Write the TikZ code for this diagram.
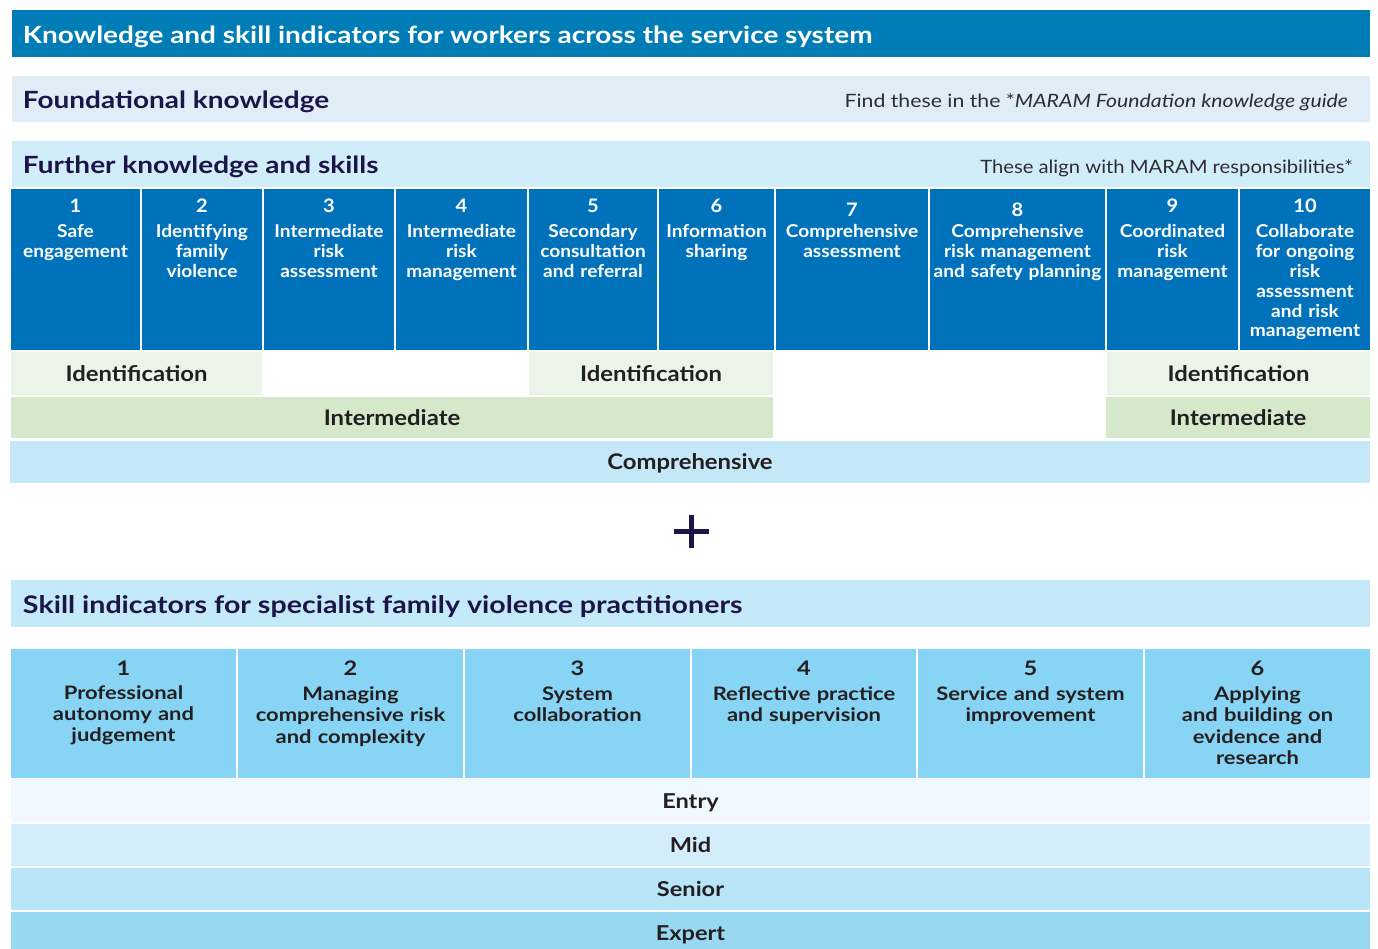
\documentclass[tikz,border=0pt]{standalone}
\usepackage{fontspec}
\setmainfont{Lato}
\newfontfamily\fA{Lato}[FakeStretch=1.18]
\newfontfamily\fB{Lato}[FakeStretch=1.155]
\newfontfamily\fG{Lato}[FakeStretch=1.10]
\newfontfamily\fC{Lato}[FakeStretch=1.08]
\newfontfamily\fD{Lato}[FakeStretch=1.11]
\newfontfamily\fE{Lato}[FakeStretch=1.18]
\newfontfamily\fF{Lato}[FakeStretch=1.15]
\definecolor{hdrc}{RGB}{0,125,182}
\definecolor{fndc}{RGB}{224,236,246}
\definecolor{furc}{RGB}{210,237,250}
\definecolor{colc}{RGB}{0,114,188}
\definecolor{idc}{RGB}{234,245,232}
\definecolor{intc}{RGB}{213,232,202}
\definecolor{compc}{RGB}{196,232,248}
\definecolor{navy}{RGB}{28,22,72}
\definecolor{darkc}{RGB}{35,31,32}
\definecolor{notec}{RGB}{45,45,50}
\definecolor{skhc}{RGB}{196,233,248}
\definecolor{skcc}{RGB}{135,212,244}
\definecolor{entc}{RGB}{239,248,254}
\definecolor{midc}{RGB}{211,238,250}
\definecolor{senc}{RGB}{184,229,248}
\definecolor{expc}{RGB}{153,216,243}
\newcommand\fsz[2]{\fontsize{#1}{#2}\selectfont}
\tikzset{
  band/.style={anchor=north west, inner sep=0pt, outer sep=0pt, draw=none},
  txt/.style={inner sep=0pt, outer sep=0pt},
  htitle/.style={txt, anchor=base west, text=navy, font=\fA\bfseries\fsz{23.7}{28}},
  note/.style={txt, anchor=base east, text=notec, font=\fB\fsz{18.4}{22}},
  cnum/.style={txt, anchor=base, text=white, font=\fC\bfseries\fsz{18.6}{20}},
  ctxt/.style={txt, anchor=base, text=white, align=center, text width=180pt, font=\fC\bfseries\fsz{17.7}{19.8}},
  lvl/.style={txt, anchor=base, text=darkc, font=\fD\bfseries\fsz{21.5}{24}},
  snum/.style={txt, anchor=base, text=darkc, font=\fE\bfseries\fsz{20}{22}},
  stxt/.style={txt, anchor=base, text=darkc, align=center, text width=230pt, font=\fE\bfseries\fsz{18.6}{21.3}},
  rlvl/.style={txt, anchor=base, text=darkc, font=\fF\bfseries\fsz{20.5}{22}},
  plusbar/.style={draw=navy, line width=5pt}
}
\begin{document}
\begin{tikzpicture}[x=1pt,y=-1pt]
\useasboundingbox (0,0) rectangle (1378,949);
\fill[white] (0,0) rectangle (1378,949);

% header
\node[band, fill=hdrc, minimum width=1358pt, minimum height=47pt] (hdr) at (12,10) {};
\node[htitle, text=white] (hdrT) at (23,43.5) {Knowledge and skill indicators for workers across the service system};

% foundational
\node[band, fill=fndc, minimum width=1358pt, minimum height=46pt] (fnd) at (12,76) {};
\node[htitle] (fndT) at (23,108.5) {Foundational knowledge};
\node[note] (fndN) at (1348,107.5) {Find these in the *\textit{MARAM Foundation knowledge guide}};

% further
\node[band, fill=furc, minimum width=1358pt, minimum height=46pt] (fur) at (12,141) {};
\node[htitle] (furT) at (23,173.5) {Further knowledge and skills};
\node[note, font=\fG\fsz{18.4}{22}] (furN) at (1353,173.5) {These align with MARAM responsibilities*};

% columns
\node[band, fill=colc, minimum width=129pt, minimum height=161pt] (c1) at (11,189) {};
\node[band, fill=colc, minimum width=120pt, minimum height=161pt] (c2) at (142,189) {};
\node[band, fill=colc, minimum width=130pt, minimum height=161pt] (c3) at (264,189) {};
\node[band, fill=colc, minimum width=131pt, minimum height=161pt] (c4) at (396,189) {};
\node[band, fill=colc, minimum width=128pt, minimum height=161pt] (c5) at (529,189) {};
\node[band, fill=colc, minimum width=115pt, minimum height=161pt] (c6) at (659,189) {};
\node[band, fill=colc, minimum width=152pt, minimum height=161pt] (c7) at (776,189) {};
\node[band, fill=colc, minimum width=175pt, minimum height=161pt] (c8) at (930,189) {};
\node[band, fill=colc, minimum width=131pt, minimum height=161pt] (c9) at (1107,189) {};
\node[band, fill=colc, minimum width=130pt, minimum height=161pt] (c10) at (1240,189) {};

\node[cnum] (c1n) at (75.5,213) {1};
\node[ctxt] (c1t) at (75.5,238) {Safe\\engagement};
\node[cnum] (c2n) at (202,213) {2};
\node[ctxt] (c2t) at (202,238) {Identifying\\family\\violence};
\node[cnum] (c3n) at (329,213) {3};
\node[ctxt] (c3t) at (329,238) {Intermediate\\risk\\assessment};
\node[cnum] (c4n) at (461.5,213) {4};
\node[ctxt] (c4t) at (461.5,238) {Intermediate\\risk\\management};
\node[cnum] (c5n) at (593,213) {5};
\node[ctxt] (c5t) at (593,238) {Secondary\\consultation\\and referral};
\node[cnum] (c6n) at (716.5,213) {6};
\node[ctxt] (c6t) at (716.5,238) {Information\\sharing};
\node[cnum] (c7n) at (852,217) {7};
\node[ctxt] (c7t) at (852,238) {Comprehensive\\assessment};
\node[cnum] (c8n) at (1017.5,217) {8};
\node[ctxt] (c8t) at (1017.5,238) {Comprehensive\\risk management\\and safety planning};
\node[cnum] (c9n) at (1172.5,213) {9};
\node[ctxt] (c9t) at (1172.5,238) {Coordinated\\risk\\management};
\node[cnum] (c10n) at (1305,213) {10};
\node[ctxt] (c10t) at (1305,238) {Collaborate\\for ongoing\\risk\\assessment\\and risk\\management};

% level rows
\node[band, fill=idc, minimum width=251pt, minimum height=43pt] (id1) at (11,352) {};
\node[band, fill=idc, minimum width=244pt, minimum height=43pt] (id2) at (529,352) {};
\node[band, fill=idc, minimum width=263pt, minimum height=43pt] (id3) at (1107,352) {};
\node[lvl] (id1t) at (id1.center |- 0,381.5) {Identification};
\node[lvl] (id2t) at (id2.center |- 0,381.5) {Identification};
\node[lvl] (id3t) at (id3.center |- 0,381.5) {Identification};

\node[band, fill=intc, minimum width=762pt, minimum height=41pt] (in1) at (11,397) {};
\node[band, fill=intc, minimum width=264pt, minimum height=41pt] (in2) at (1106,397) {};
\node[lvl] (in1t) at (in1.center |- 0,425.5) {Intermediate};
\node[lvl] (in2t) at (in2.center |- 0,425.5) {Intermediate};

\node[band, fill=compc, minimum width=1360pt, minimum height=42pt] (cmp) at (10,441) {};
\node[lvl] (cmpt) at (cmp.center |- 0,469.3) {Comprehensive};

% plus
\coordinate (pl) at (674,531);
\coordinate (pr) at (709,531);
\coordinate (pt) at (691.5,515);
\coordinate (pb) at (691.5,548);
\draw[plusbar] (pl) -- (pr);
\draw[plusbar] (pt) -- (pb);

% skill header
\node[band, fill=skhc, minimum width=1359pt, minimum height=47pt] (skh) at (11,580) {};
\node[htitle, font=\fA\bfseries\fsz{24.2}{28}] (skhT) at (23,613) {Skill indicators for specialist family violence practitioners};

% skill columns
\node[band, fill=skcc, minimum width=225pt, minimum height=129pt] (s1) at (11,649) {};
\node[band, fill=skcc, minimum width=225pt, minimum height=129pt] (s2) at (238,649) {};
\node[band, fill=skcc, minimum width=225pt, minimum height=129pt] (s3) at (465,649) {};
\node[band, fill=skcc, minimum width=224pt, minimum height=129pt] (s4) at (692,649) {};
\node[band, fill=skcc, minimum width=225pt, minimum height=129pt] (s5) at (918,649) {};
\node[band, fill=skcc, minimum width=225pt, minimum height=129pt] (s6) at (1145,649) {};

\node[snum] (s1n) at (s1.center |- 0,675) {1};
\node[stxt] (s1t) at (s1.center |- 0,699.3) {Professional\\autonomy and\\judgement};
\node[snum] (s2n) at (s2.center |- 0,675) {2};
\node[stxt] (s2t) at (s2.center |- 0,700.5) {Managing\\comprehensive risk\\and complexity};
\node[snum] (s3n) at (s3.center |- 0,675) {3};
\node[stxt] (s3t) at (s3.center |- 0,700.5) {System\\collaboration};
\node[snum] (s4n) at (s4.center |- 0,675) {4};
\node[stxt] (s4t) at (s4.center |- 0,700.5) {Reflective practice\\and supervision};
\node[snum] (s5n) at (s5.center |- 0,675) {5};
\node[stxt] (s5t) at (s5.center |- 0,700.5) {Service and system\\improvement};
\node[snum] (s6n) at (s6.center |- 0,675) {6};
\node[stxt] (s6t) at (s6.center |- 0,700.5) {Applying\\and building on\\evidence and\\research};

% bottom rows
\node[band, fill=entc, minimum width=1359pt, minimum height=43pt] (ent) at (11,779) {};
\node[band, fill=midc, minimum width=1359pt, minimum height=42pt] (mid) at (11,824) {};
\node[band, fill=senc, minimum width=1359pt, minimum height=42pt] (sen) at (11,868) {};
\node[band, fill=expc, minimum width=1359pt, minimum height=37pt] (exp) at (11,912) {};
\node[rlvl] (entt) at (ent.center |- 0,808) {Entry};
\node[rlvl] (midt) at (mid.center |- 0,852) {Mid};
\node[rlvl] (sent) at (sen.center |- 0,896) {Senior};
\node[rlvl] (expt) at (exp.center |- 0,940) {Expert};
\end{tikzpicture}
\end{document}
